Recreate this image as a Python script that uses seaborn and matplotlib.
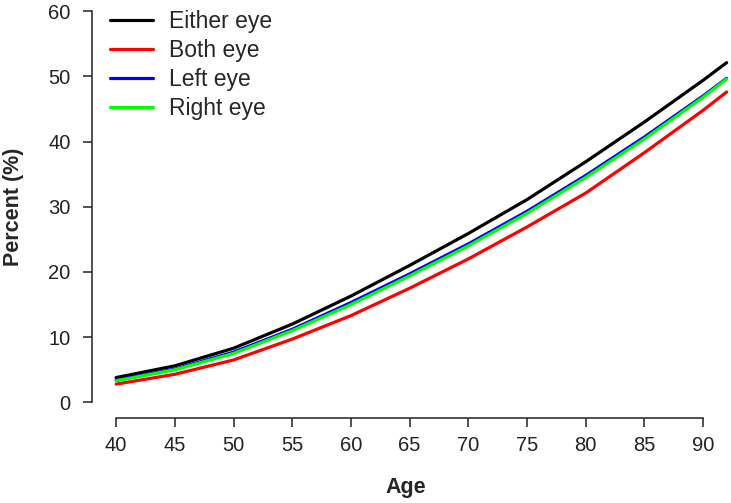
import pandas as pd
import matplotlib.pyplot as plt
import seaborn as sns

# data
ages = [40, 45, 50, 55, 60, 65, 70, 75, 80, 85, 90, 92]
either_eye = [3.8, 5.6, 8.3, 12.0, 16.3, 21.0, 25.9, 31.1, 36.9, 43.0, 49.4, 52.1]
both_eye = [2.8, 4.3, 6.5, 9.7, 13.3, 17.5, 22.0, 26.9, 32.1, 38.3, 44.8, 47.6]
left_eye = [3.4, 5.1, 7.7, 11.2, 15.3, 19.7, 24.3, 29.3, 34.8, 40.7, 47.0, 49.7]
right_eye = [3.3, 5.0, 7.5, 11.0, 15.0, 19.4, 24.0, 29.0, 34.5, 40.4, 46.8, 49.6]
series_names = ["Either eye", "Both eye", "Left eye", "Right eye"]
x_ticks = [40, 45, 50, 55, 60, 65, 70, 75, 80, 85, 90]
y_ticks = [0, 10, 20, 30, 40, 50, 60]

rows = []
for name, vals in zip(series_names, [either_eye, both_eye, left_eye, right_eye]):
    for a, v in zip(ages, vals):
        rows.append({"Age": a, "Percent": v, "Group": name})
df = pd.DataFrame(rows)

sns.set_theme(style="ticks")
plt.rcParams["font.family"] = ["Liberation Sans", "DejaVu Sans"]

fig = plt.figure(figsize=(7.31, 5.03), dpi=100)
ax = fig.add_axes([91.7 / 731, 85 / 503, 0.902, 0.84])

paleta = {"Either eye": "#000000", "Both eye": "#FF0000",
          "Left eye": "#0000FF", "Right eye": "#00FF00"}
sns.lineplot(data=df, x="Age", y="Percent", hue="Group", hue_order=series_names,
             palette=paleta, linewidth=2.3, ax=ax)

# R-style axes: 4% padding, spines only across the tick range
ax.set_xlim(37.92, 94.08)
ax.set_ylim(-2.4, 62.4)
ax.set_xticks(x_ticks)
ax.set_yticks(y_ticks)
ax.spines["top"].set_visible(False)
ax.spines["right"].set_visible(False)
ax.spines["bottom"].set_bounds(40, 90)
ax.spines["left"].set_bounds(0, 60)
for s in ["bottom", "left"]:
    ax.spines[s].set_color("#222222")
    ax.spines[s].set_linewidth(1.1)
ax.tick_params(axis="both", length=6.3, width=1.1, color="#222222",
               labelsize=14.5, labelcolor="#222222")
ax.tick_params(axis="x", pad=7)
ax.tick_params(axis="y", pad=9)

ax.set_xlabel("Age", fontsize=15.5, fontweight="bold")
ax.set_ylabel("Percent (%)", fontsize=15.5, fontweight="bold")
ax.xaxis.set_label_coords(0.476, -0.14)
ax.yaxis.set_label_coords(-0.103, 0.5)

leg = ax.legend(loc="upper left", bbox_to_anchor=(99 / 731, 1 + 1 / 503),
                bbox_transform=fig.transFigure, frameon=False, fontsize=16.5,
                borderpad=0, handlelength=1.86, handletextpad=0.68,
                labelspacing=0.25)
for line in leg.get_lines():
    line.set_linewidth(2.3)

fig.savefig("out.png", dpi=100)
